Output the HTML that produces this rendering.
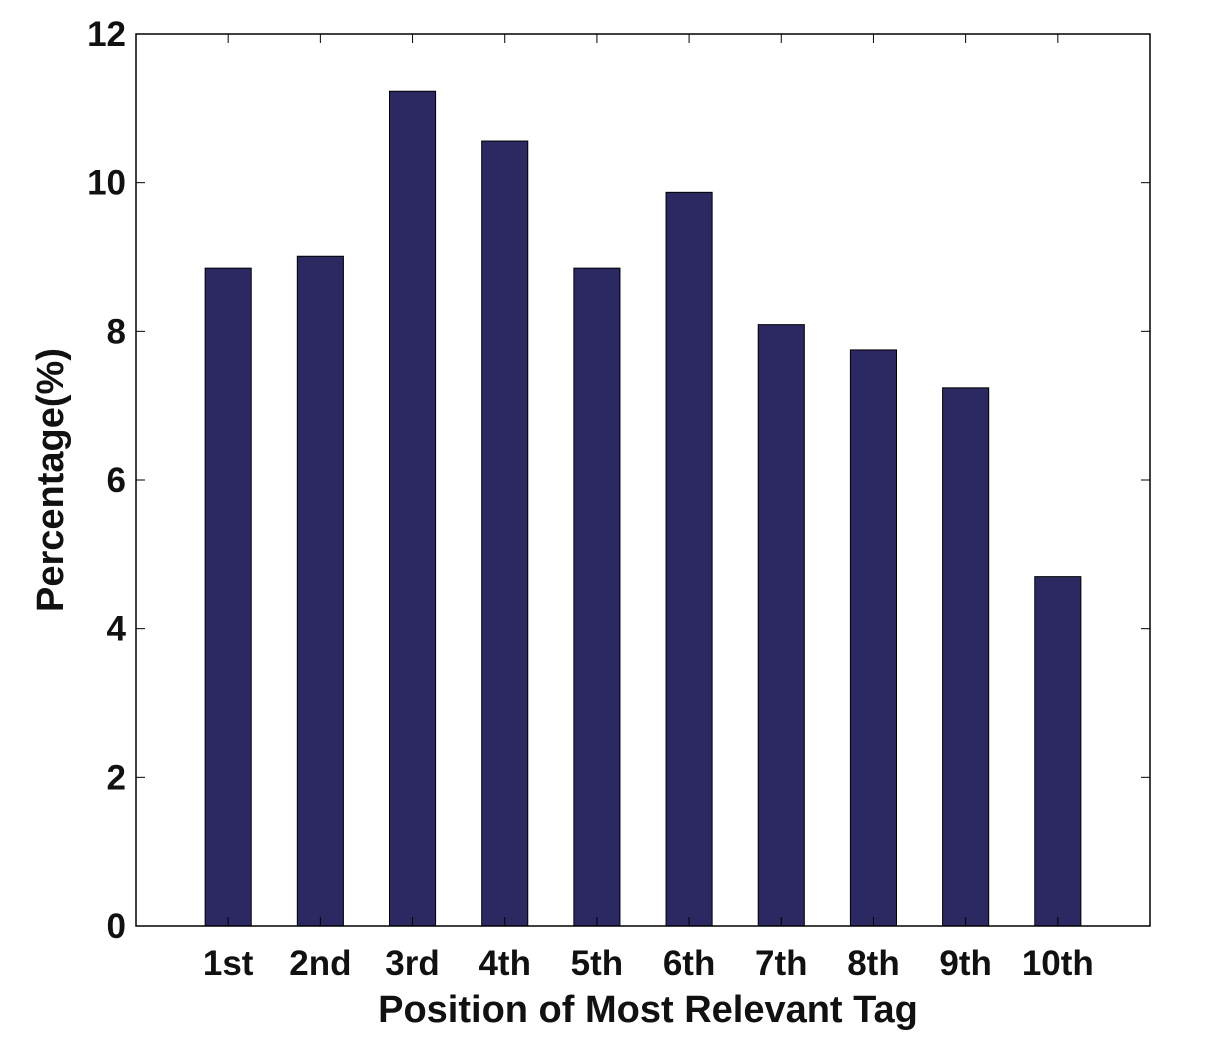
<!DOCTYPE html>
<html><head><meta charset="utf-8"><style>
body{margin:0;background:#fff;}
svg text{font-family:"Liberation Sans",sans-serif;font-weight:bold;fill:#111;}
</style></head><body>
<svg id="chart" width="1209" height="1049"></svg>
<script>
const categories=["1st","2nd","3rd","4th","5th","6th","7th","8th","9th","10th"];
const values=[8.85,9.01,11.23,10.56,8.85,9.87,8.09,7.75,7.24,4.70];
const yTicks=[0,2,4,6,8,10,12];
const NS="http://www.w3.org/2000/svg";
const svg=document.getElementById('chart');
const L=136,R=1150,T=34,B=926;
const x=i=>L+(R-L)*(i+1)/(categories.length+1);
const y=v=>B-(B-T)*v/12;
const bw=(R-L)/(categories.length+1)*0.5;
function mk(tag,a,txt){const e=document.createElementNS(NS,tag);for(const k in a)e.setAttribute(k,a[k]);if(txt!==undefined)e.textContent=txt;svg.appendChild(e);return e;}
categories.forEach((c,i)=>{
  const r=mk('rect',{x:x(i)-bw/2,y:y(values[i]),width:bw,height:B-y(values[i]),fill:'#2c2861',stroke:'#000','stroke-width':1});
  
  
  const t=mk('text',{x:x(i),y:975,'text-anchor':'middle','font-size':35},c);
  
  
  mk('line',{x1:x(i),x2:x(i),y1:B,y2:B-9,stroke:'#000','stroke-width':1});
  mk('line',{x1:x(i),x2:x(i),y1:T,y2:T+9,stroke:'#000','stroke-width':1});
});
yTicks.forEach(v=>{
  mk('line',{x1:L,x2:L+9,y1:y(v),y2:y(v),stroke:'#000','stroke-width':1});
  mk('line',{x1:R,x2:R-9,y1:y(v),y2:y(v),stroke:'#000','stroke-width':1});
  const t=mk('text',{x:L-10,y:y(v)+12,'text-anchor':'end','font-size':35},v);
  
  
});
const f=mk('rect',{x:L,y:T,width:R-L,height:B-T,fill:'none',stroke:'#000','stroke-width':1.5});


const xt=mk('text',{x:(L+R)/2+5,y:1022,'text-anchor':'middle','font-size':38},'Position of Most Relevant Tag');


const yt=mk('text',{x:0,y:0,transform:'translate(63,480) rotate(-90)','text-anchor':'middle','font-size':38},'Percentage(%)');


</script>
</body></html>
